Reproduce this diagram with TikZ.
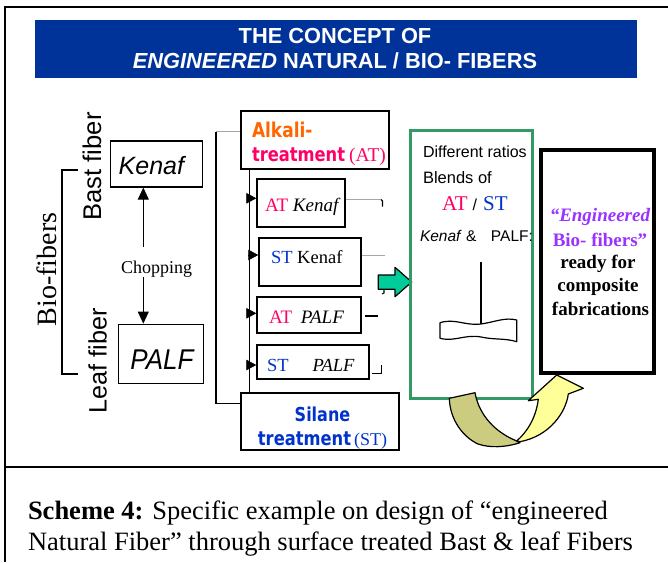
\documentclass[tikz,border=0pt]{standalone}
\usepackage{fontspec}
\setmainfont{Liberation Serif}
\setsansfont{Liberation Sans}
\newfontfamily\dvsans{DejaVu Sans}
\usetikzlibrary{arrows.meta}
\definecolor{titleblue}{RGB}{0,51,153}
\definecolor{atpink}{RGB}{255,0,102}
\definecolor{stblue}{RGB}{0,51,204}
\definecolor{alkorange}{RGB}{255,102,0}
\definecolor{boxgreen}{RGB}{51,153,102}
\definecolor{arrowteal}{RGB}{0,204,153}
\definecolor{engpurple}{RGB}{153,51,255}
\definecolor{khakiband}{RGB}{204,204,128}
\definecolor{yellowband}{RGB}{255,255,153}
\newcommand{\fsz}[1]{\fontsize{#1}{#1}\selectfont}
\begin{document}
\begin{tikzpicture}[x=1pt,y=-1pt,
  txt/.style={inner sep=0pt, outer sep=0pt, anchor=base},
  txtl/.style={inner sep=0pt, outer sep=0pt, anchor=base west},
  frameline/.style={line width=1.5pt},
  boxthin/.style={draw, line width=1.4pt, inner sep=0pt},
  thinline/.style={line width=0.8pt},
  grayline/.style={line width=0.8pt, draw=black!35},
  tickline/.style={line width=1.1pt},
  headtri/.style={line width=0.8pt, -{Triangle[length=10pt,width=10.5pt]}},
  dbl/.style={line width=0.8pt, {Triangle[length=12pt,width=11pt]}-{Triangle[length=12pt,width=11pt]}},
  shapeline/.style={line width=1.2pt, line join=round},
]
\useasboundingbox (0,0) rectangle (668,562);
\fill[white] (0,0) rectangle (668,562);
% outer frame
\coordinate (fTL) at (5,7); \coordinate (fTR) at (668,7); \coordinate (fBL) at (5,562);
\coordinate (dL) at (5,467); \coordinate (dR) at (668,467);
\draw[frameline] (fTR) -- (fTL) -- (fBL);
\draw[frameline] (dL) -- (dR);
% title
\node[fill=titleblue, minimum width=602pt, minimum height=58pt, inner sep=0pt] (title) at (336,49) {};
\node[txt, text=white, font=\sffamily\bfseries\fsz{21.8}] (title1) at (335,43.3) {THE CONCEPT OF};
\node[txt, text=white, font=\sffamily\bfseries\fsz{21.8}] (title2) at (335,68.3) {\textit{ENGINEERED} NATURAL / BIO- FIBERS};
% left part
\node[txt, rotate=90, font=\sffamily\fsz{25.6}] (bast) at (101,166.5) {Bast fiber};
\node[txt, rotate=90, font=\sffamily\fsz{25.2}] (leaf) at (106.7,360.5) {Leaf fiber};
\node[txt, rotate=90, font=\fsz{28}] (bio) at (56,269.5) {Bio-fibers};
\coordinate (brT) at (78,170); \coordinate (brTc) at (62,170);
\coordinate (brBc) at (62,374); \coordinate (brB) at (78,374);
\draw[line width=1.2pt] (brT) -- (brTc) -- (brBc) -- (brB);
\node[boxthin, minimum width=92pt, minimum height=46pt] (kenaf) at (156.7,163.9) {};
\node[txt, font=\sffamily\itshape\fsz{25}] (kenaft) at (151.4,174) {Kenaf};
\node[boxthin, minimum width=85pt, minimum height=59pt] (palf) at (160.8,353.8) {};
\node[txt, font=\sffamily\itshape\fsz{26}] (palft) at (162,369) {\scalebox{1}[1.1]{PALF}};
\coordinate (chx) at (143.3,0);
\draw[dbl] (kenaf.south -| chx) -- (palf.north -| chx);
\node[txtl, font=\fsz{18}, fill=white, text height=26pt] (chop) at (121,273) {Chopping};
% treatments
\node[boxthin, minimum width=148pt, minimum height=58pt] (alkali) at (315,140) {};
\node[txtl, font=\dvsans\bfseries\fsz{17}, text=alkorange] (alk1) at (252,137.7) {\scalebox{1}[1.2]{Alkali-}};
\node[txtl, text=atpink] (alk2) at (252,161) {\scalebox{1}[1.2]{\dvsans\bfseries\fsz{16.3}treatment}\hspace{4pt}{\fsz{19.5}(AT)}};
\node[boxthin, minimum width=158pt, minimum height=57pt] (silane) at (320,421.5) {};
\node[txt, font=\dvsans\bfseries\fsz{16}, text=stblue] (sil1) at (322.5,421.7) {\scalebox{1}[1.2]{Silane}};
\node[txt, text=stblue] (sil2) at (322.5,445) {\scalebox{1}[1.2]{\dvsans\bfseries\fsz{16.3}treatment}\hspace{3pt}{\fsz{18}(ST)}};
\node[boxthin, minimum width=88pt, minimum height=48pt] (atk) at (301,203) {};
\node[txtl, font=\fsz{19}] (atkt) at (265,211.7) {\textcolor{atpink}{AT} \textit{Kenaf}};
\node[boxthin, minimum width=102pt, minimum height=48pt] (stk) at (310,262) {};
\node[txtl, font=\fsz{18.5}] (stkt) at (271,263.3) {\textcolor{stblue}{ST} Kenaf};
\node[boxthin, minimum width=104pt, minimum height=36pt] (atp) at (309,315) {};
\node[txtl, font=\fsz{19}] (atpt) at (269,323.3) {\textcolor{atpink}{AT}\hspace{8.7pt}\textit{PALF}};
\node[boxthin, minimum width=112pt, minimum height=34pt] (stp) at (313,362) {};
\node[txtl, font=\fsz{18.5}] (stpt) at (267,371.7) {\textcolor{stblue}{ST}\hspace{24pt}\textit{PALF}};
% distribution line with arrows
\coordinate (vx) at (249,0);
\draw[thinline] (alkali.south -| vx) -- (silane.north -| vx);
\coordinate (a1) at (248,198.3); \coordinate (a2) at (248,255);
\coordinate (a3) at (248,313.3); \coordinate (a4) at (248,365);
\draw[headtri] (a1) -- (a1 -| atk.west);
\draw[headtri] (a2) -- (a2 -| stk.west);
\draw[headtri] (a3) -- (a3 -| atp.west);
\draw[headtri] (a4) -- (a4 -| stp.west);
% big bracket
\coordinate (bbT) at (216,131.7); \coordinate (bbB) at (216,403.3);
\draw[grayline] (bbT) -- (bbT -| alkali.west);
\draw[line width=1.4pt] (bbT) -- (bbB) -- (bbB -| silane.west);
% small lines right of boxes
\coordinate (g1) at (381,199.5); \coordinate (g1b) at (382.5,201); \coordinate (g1c) at (382.5,206.5);
\draw[grayline] (atk.east |- g1) -- (g1);
\draw[tickline] (g1) -- (g1b) -- (g1c);
\coordinate (g2) at (385,255);
\draw[grayline] (stk.east |- g2) -- (g2);
\coordinate (t2a) at (384,288); \coordinate (t2b) at (384,293); \coordinate (t2c) at (382,294);
\draw[tickline] (t2a) -- (t2b) -- (t2c);
\coordinate (g3a) at (365,316); \coordinate (g3b) at (378,316);
\draw[tickline] (g3a) -- (g3b);
\coordinate (g4a) at (371.7,373.3); \coordinate (g4b) at (381.7,373.3); \coordinate (g4c) at (381.7,365);
\draw[tickline] (g4a) -- (g4b) -- (g4c);
% green block arrow
\draw[shapeline, fill=arrowteal] (378.3,275) -- (395,275) -- (395,267.3) -- (411.7,282) -- (395,296.7) -- (395,289.3) -- (378.3,289.3) -- cycle;
% blend box
\node[draw=boxgreen, line width=3pt, minimum width=122pt, minimum height=268pt, inner sep=0pt] (blend) at (471,264) {};
\node[txtl, font=\sffamily\fsz{16}] (b1) at (423,157.3) {Different ratios};
\node[txtl, font=\sffamily\fsz{16.5}] (b2) at (423,183.3) {Blends of};
\node[txtl, font=\fsz{21}] (b3) at (442,210.7) {\textcolor{atpink}{AT}\hspace{5pt}{\sffamily\fsz{16}/}\hspace{6pt}\textcolor{stblue}{ST}};
\node[txtl, font=\sffamily\fsz{15.5}] (b4) at (420,241.7) {\textit{Kenaf} \&\hspace{14.5pt}PALF:};
% stirrer
\coordinate (stemT) at (481,262); \coordinate (stemB) at (481,324);
\draw[line width=2pt] (stemT) -- (stemB);
\draw[shapeline, fill=white] (440,322.7) .. controls (455,318) and (465,326) .. (481,324) .. controls (495,322) and (505,317) .. (516.7,320) -- (516.7,341.7) .. controls (505,338) and (495,340) .. (481,337) .. controls (465,334) and (455,342) .. (440,338.3) -- cycle;
% engineered box
\node[draw, line width=4pt, minimum width=113pt, minimum height=223pt, inner sep=0pt] (eng) at (597.5,261.5) {};
\node[txt, font=\bfseries\fsz{19}, text=engpurple] (e1) at (600,221.7) {\textit{“Engineered}};
\node[txt, font=\bfseries\fsz{19}, text=engpurple] (e2) at (600,246) {Bio- fibers”};
\node[txt, font=\bfseries\fsz{19}] (e3) at (598,268.3) {ready for};
\node[txt, font=\bfseries\fsz{19}] (e4) at (598,291.7) {composite};
\node[txt, font=\bfseries\fsz{19}] (e5) at (600.5,315) {fabrications};
% U-turn arrow
\draw[shapeline, fill=khakiband] (449.3,398.3) -- (475,392.7) .. controls (478,410) and (490,430) .. (516.7,441) -- (520,442.7) .. controls (505,447.5) and (490,448) .. (478,444) .. controls (463,437) and (450,420) .. cycle;
\draw[shapeline, fill=yellowband] (516.7,441) .. controls (527,432) and (536,418) .. (538.3,399.3) -- (528.3,400.7) -- (556.7,375) -- (583.3,388.3) -- (568.3,394) .. controls (566,412) and (550,436) .. (520,441.7) -- cycle;
% caption
\node[txtl, font=\fsz{26.5}] (cap1) at (28,519.3) {\textbf{Scheme 4:} Specific example on design of “engineered};
\node[txtl, font=\fsz{26.5}] (cap2) at (28,550) {Natural Fiber” through surface treated Bast \& leaf Fibers};
\end{tikzpicture}
\end{document}
